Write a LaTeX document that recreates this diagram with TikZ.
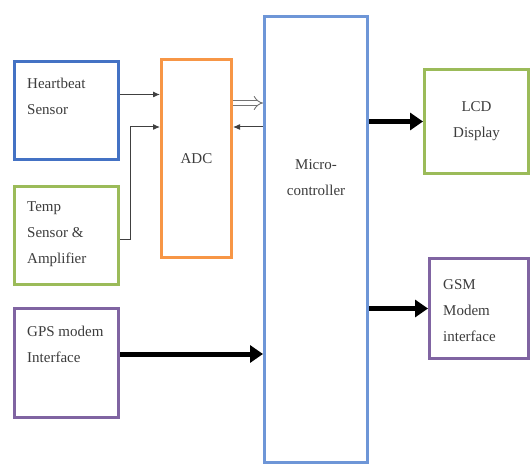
\documentclass[tikz,border=0pt]{standalone}
\usepackage{fontspec}
\setmainfont{Liberation Serif}
\newfontfamily\tnrfont{Liberation Serif}
\usetikzlibrary{arrows.meta}
\definecolor{cblue}{RGB}{68,114,196}
\definecolor{cmc}{RGB}{110,150,215}
\definecolor{corange}{RGB}{247,150,70}
\definecolor{cgreen}{RGB}{155,187,89}
\definecolor{cpurple}{RGB}{128,100,162}
\definecolor{ctext}{RGB}{60,60,60}
\begin{document}
\begin{tikzpicture}[x=1pt,y=-1pt,
  box/.style={draw, line width=3pt, inner sep=0pt, anchor=north west, fill=white},
  txt/.style={font=\tnrfont\fontsize{15}{26}\selectfont, text=ctext, inner sep=0pt},
  thinarr/.style={line width=1pt, draw=black!75, -{Latex[length=7pt,width=6pt]}},
  thickarr/.style={line width=5pt, -{Triangle[length=13pt,width=17pt]}},
  hollowarr/.style={draw=black!55, double=white, double distance=4pt, line width=0.9pt, -{Implies[length=6pt]}}
]
\useasboundingbox (0,0) rectangle (530,465);
% boxes
\node[box, draw=cblue, minimum width=104pt, minimum height=98pt] (hb) at (13,60) {};
\node[box, draw=cgreen, minimum width=104pt, minimum height=98pt] (tmp) at (13,185) {};
\node[box, draw=cpurple, minimum width=104pt, minimum height=109pt] (gps) at (13,307) {};
\node[box, draw=corange, minimum width=70pt, minimum height=198pt] (adc) at (160,58) {};
\node[box, draw=cmc, minimum width=103pt, minimum height=446pt] (mc) at (263,15) {};
\node[box, draw=cgreen, minimum width=104pt, minimum height=104pt] (lcd) at (423,68) {};
\node[box, draw=cpurple, minimum width=99pt, minimum height=100pt] (gsm) at (428,257) {};
% texts
\node[txt, anchor=north west, align=left] (thb) at (27,78) {Heartbeat\\Sensor};
\node[txt, anchor=north west, align=left] (ttmp) at (27,201) {Temp\\Sensor \&\\Amplifier};
\node[txt, anchor=north west, align=left] (tgps) at (27,326) {GPS modem\\Interface};
\node[txt, align=center] (tadc) at (adc.center) {ADC};
\node[txt, align=center] (tmc) at (316,178) {Micro-\\controller};
\node[txt, align=center] (tlcd) at (lcd.center) {LCD\\Display};
\node[txt, anchor=north west, align=left] (tgsm) at (443,279) {GSM\\Modem\\interface};
% connectors
\coordinate (hbo) at ([yshift=16pt]hb.east);
\draw[thinarr] (hbo) -- (hbo -| adc.west);
\coordinate (tmo) at ([yshift=-4pt]tmp.east);
\coordinate (adi2) at ([yshift=31.5pt]adc.west);
\draw[thinarr] (tmo) -- ++(10,0) |- (adi2);
\coordinate (ado) at ([yshift=55.5pt]adc.east);
\draw[hollowarr] (ado) -- (ado -| mc.west);
\draw[thinarr] (adi2 -| mc.west) -- (adi2 -| adc.east);
\coordinate (gpo) at ([yshift=9pt]gps.east);
\draw[thickarr] (gpo) -- (gpo -| mc.west);
\draw[thickarr] (lcd.west -| mc.east) -- (lcd.west);
\draw[thickarr] (gsm.west -| mc.east) -- (gsm.west);
\end{tikzpicture}
\end{document}
